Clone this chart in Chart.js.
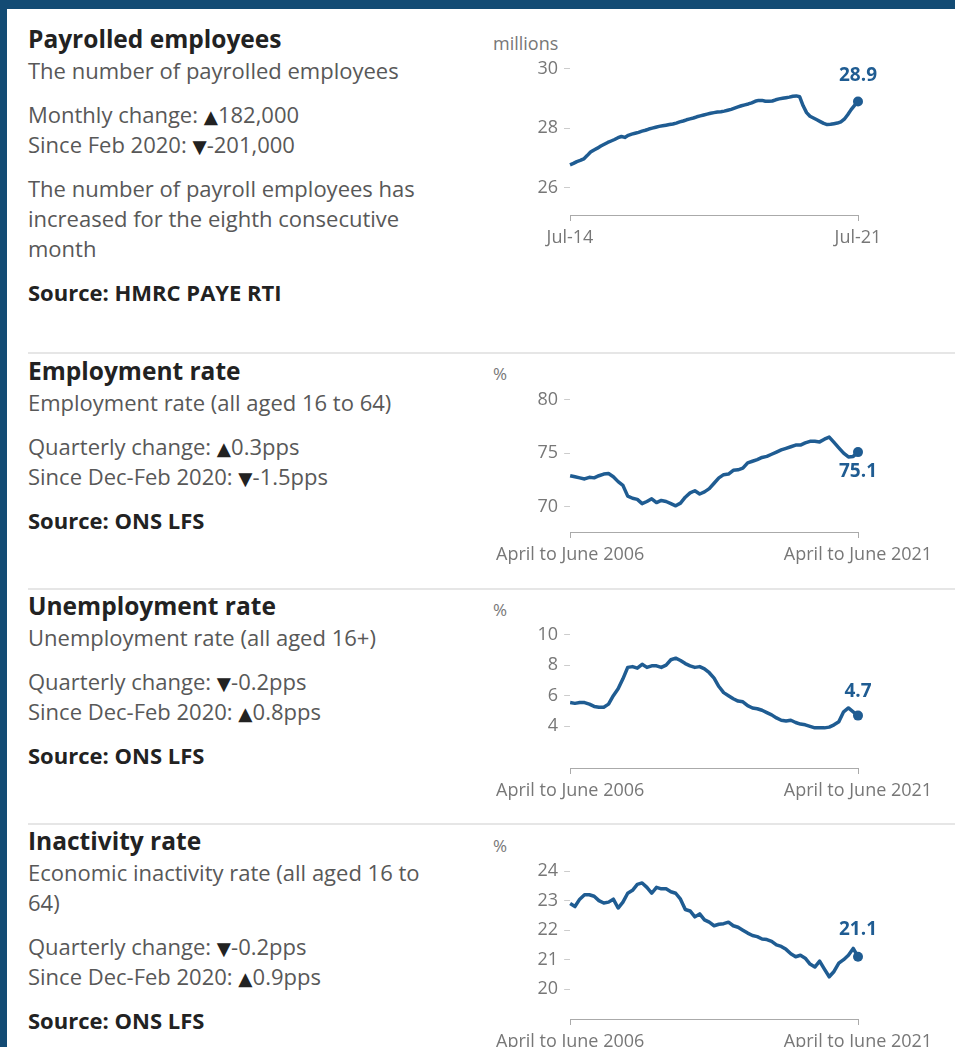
<!DOCTYPE html>
<html>
<head>
<meta charset="utf-8">
<script src="https://cdn.jsdelivr.net/npm/chart.js@4.4.0/dist/chart.umd.min.js"></script>
<style>
html, body { margin: 0; padding: 0; }
body {
    width: 955px; height: 1047px; overflow: hidden; position: relative;
    background: #fff; font-family: "Open Sans", sans-serif;
}
.frame-top { position: absolute; left: 0; top: 0; width: 955px; height: 9px; background: #134b74; }
.frame-left { position: absolute; left: 0; top: 0; width: 7px; height: 1047px; background: #134b74; }
.block { position: absolute; left: 28px; width: 405px; color: #585858; font-size: 22px; line-height: 30px; }
.block h2 { margin: 0; font-size: 24.5px; font-weight: 700; color: #222; line-height: 30px; }
.block p { margin: 14px 0 0 0; }
.block p.sub { margin-top: 1px; }
.block p.src { font-weight: 700; color: #222; }
.tri { font-family: "DejaVu Sans", sans-serif; font-size: 0.84em; line-height: 0; color: #222; }
.rule { position: absolute; left: 28px; right: 0; height: 2px; background: #e6e6e6; }
.unit { position: absolute; left: 493px; color: #777; font-size: 18px; line-height: 20px; }
.unit.pct { font-size: 17px; }
.chart { position: absolute; left: 490px; width: 465px; }
</style>
</head>
<body>
<div class="frame-top"></div>
<div class="frame-left"></div>

<!-- text blocks -->
<div class="block" style="top:24px">
    <h2>Payrolled employees</h2>
    <p class="sub">The number of payrolled employees</p>
    <p>Monthly change: <span class="tri">▲</span>182,000<br>Since Feb 2020: <span class="tri">▼</span>-201,000</p>
    <p>The number of payroll employees has increased for the eighth consecutive month</p>
    <p class="src">Source: HMRC PAYE RTI</p>
</div>
<div class="rule" style="top:352px"></div>

<div class="block" style="top:356px">
    <h2>Employment rate</h2>
    <p class="sub">Employment rate (all aged 16 to 64)</p>
    <p>Quarterly change: <span class="tri">▲</span>0.3pps<br>Since Dec-Feb 2020: <span class="tri">▼</span>-1.5pps</p>
    <p class="src">Source: ONS LFS</p>
</div>
<div class="rule" style="top:588px"></div>

<div class="block" style="top:591px">
    <h2>Unemployment rate</h2>
    <p class="sub">Unemployment rate (all aged 16+)</p>
    <p>Quarterly change: <span class="tri">▼</span>-0.2pps<br>Since Dec-Feb 2020: <span class="tri">▲</span>0.8pps</p>
    <p class="src">Source: ONS LFS</p>
</div>
<div class="rule" style="top:823px"></div>

<div class="block" style="top:826px">
    <h2>Inactivity rate</h2>
    <p class="sub">Economic inactivity rate (all aged 16 to 64)</p>
    <p>Quarterly change: <span class="tri">▼</span>-0.2pps<br>Since Dec-Feb 2020: <span class="tri">▲</span>0.9pps</p>
    <p class="src">Source: ONS LFS</p>
</div>

<!-- unit labels -->
<div class="unit" style="top:33px">millions</div>
<div class="unit pct" style="top:364px">%</div>
<div class="unit pct" style="top:600px">%</div>
<div class="unit pct" style="top:836px">%</div>

<!-- chart canvases -->
<div class="chart" style="top:43px; height:212px"><canvas id="payrollChart"></canvas></div>
<div class="chart" style="top:373px; height:199px"><canvas id="employmentChart"></canvas></div>
<div class="chart" style="top:608px; height:200px"><canvas id="unemploymentChart"></canvas></div>
<div class="chart" style="top:844px; height:215px"><canvas id="inactivityChart"></canvas></div>

<script>
// ===============================
// DATA
// ===============================

// payrolled employees, millions, monthly Jul-14 .. Jul-21
const payrollValues = [
    26.77, 26.82, 26.88, 26.92, 26.97, 27.08, 27.20, 27.27, 27.33, 27.40, 27.46, 27.52,
    27.57, 27.62, 27.68, 27.72, 27.69, 27.76, 27.80, 27.83, 27.86, 27.90, 27.93, 27.97,
    28.00, 28.03, 28.06, 28.08, 28.10, 28.12, 28.14, 28.17, 28.21, 28.24, 28.28, 28.31,
    28.34, 28.38, 28.41, 28.44, 28.47, 28.50, 28.52, 28.54, 28.55, 28.57, 28.60, 28.63,
    28.67, 28.71, 28.75, 28.78, 28.81, 28.85, 28.90, 28.93, 28.93, 28.90, 28.90, 28.91,
    28.95, 28.98, 29.00, 29.02, 29.04, 29.07, 29.08, 29.05, 28.75, 28.52, 28.40, 28.34,
    28.28, 28.22, 28.16, 28.12, 28.13, 28.15, 28.17, 28.21, 28.30, 28.45, 28.62, 28.76,
    28.89
];
const payrollTicks = [26, 28, 30];
const payrollXLabels = ["Jul-14", "Jul-21"];

// employment rate %, quarterly Apr-Jun 2006 .. Apr-Jun 2021
const employmentValues = [
    72.9, 72.8, 72.7, 72.6, 72.75, 72.7, 72.9, 73.05, 73.1, 72.8,
    72.35, 72.0, 71.0, 70.8, 70.7, 70.3, 70.5, 70.75, 70.4, 70.6,
    70.5, 70.3, 70.1, 70.35, 70.9, 71.3, 71.5, 71.2, 71.4, 71.7,
    72.2, 72.7, 73.0, 73.05, 73.4, 73.45, 73.6, 74.1, 74.25, 74.4,
    74.6, 74.7, 74.9, 75.1, 75.3, 75.45, 75.6, 75.75, 75.75, 75.95,
    76.1, 76.1, 76.05, 76.3, 76.5, 76.0, 75.5, 75.0, 74.65, 74.7,
    75.1
];
const employmentTicks = [70, 75, 80];

// unemployment rate %, quarterly Apr-Jun 2006 .. Apr-Jun 2021
const unemploymentValues = [
    5.55, 5.5, 5.55, 5.55, 5.45, 5.3, 5.25, 5.25, 5.45, 6.0,
    6.45, 7.1, 7.85, 7.9, 7.8, 8.05, 7.85, 7.95, 7.95, 7.85,
    8.0, 8.35, 8.45, 8.3, 8.1, 7.95, 7.85, 7.9, 7.75, 7.5,
    7.15, 6.6, 6.2, 6.0, 5.8, 5.65, 5.6, 5.35, 5.2, 5.15,
    5.05, 4.9, 4.75, 4.55, 4.4, 4.35, 4.4, 4.25, 4.15, 4.1,
    4.0, 3.9, 3.9, 3.9, 3.95, 4.1, 4.3, 4.95, 5.2, 4.95,
    4.7
];
const unemploymentTicks = [4, 6, 8, 10];

// inactivity rate %, quarterly Apr-Jun 2006 .. Apr-Jun 2021
const inactivityValues = [
    22.9, 22.8, 23.05, 23.2, 23.2, 23.15, 23.0, 22.92, 22.95, 23.05,
    22.75, 22.95, 23.25, 23.35, 23.55, 23.6, 23.45, 23.25, 23.45, 23.4,
    23.4, 23.3, 23.25, 23.05, 22.7, 22.65, 22.45, 22.55, 22.35, 22.27,
    22.15, 22.2, 22.22, 22.27, 22.15, 22.1, 22.0, 21.9, 21.82, 21.78,
    21.7, 21.68, 21.62, 21.5, 21.45, 21.35, 21.2, 21.1, 21.15, 21.05,
    20.85, 20.75, 20.95, 20.68, 20.42, 20.6, 20.88, 21.0, 21.15, 21.38,
    21.1
];
const inactivityTicks = [20, 21, 22, 23, 24];

const lfsXLabels = ["April to June 2006", "April to June 2021"];

const LINE_COLOR = "#1f5c92";
const AXIS_TEXT = "#777";


// ===============================
// END VALUE LABEL PLUGIN
// ===============================
const endLabel = {
    id: "endLabel",
    afterDatasetsDraw(chart, args, opts) {
        const meta = chart.getDatasetMeta(0);
        const pt = meta.data[meta.data.length - 1];
        const data = chart.data.datasets[0].data;
        const value = data[data.length - 1].y;
        const ctx = chart.ctx;
        ctx.save();
        ctx.font = "bold 19px 'Open Sans'";
        ctx.fillStyle = LINE_COLOR;
        ctx.textAlign = "center";
        ctx.textBaseline = "middle";
        ctx.fillText(value.toFixed(1), pt.x + (opts.dx || 0), pt.y + opts.dy);
        ctx.restore();
    }
};


// ===============================
// BUILD ONE SMALL LINE CHART
// ===============================
function makeChart(id, values, yTicks, xLabels, yMin, yMax, labelDy) {
    const last = values.length - 1;
    const ctx = document.getElementById(id).getContext("2d");

    return new Chart(ctx, {
        type: "line",
        data: {
            datasets: [{
                data: values.map((v, i) => ({ x: i, y: v })),
                borderColor: LINE_COLOR,
                borderWidth: 3.5,
                borderJoinStyle: "round",
                tension: 0,
                pointRadius: c => (c.dataIndex === last ? 5 : 0),
                pointBackgroundColor: LINE_COLOR,
                pointBorderWidth: 0,
                clip: false
            }]
        },
        options: {
            responsive: true,
            maintainAspectRatio: false,
            animation: false,
            layout: { padding: { top: 12, right: 97, left: 0, bottom: 0 } },
            plugins: {
                legend: { display: false },
                tooltip: { enabled: false },
                endLabel: { dy: labelDy }
            },
            scales: {
                x: {
                    type: "linear",
                    min: 0,
                    max: last,
                    afterBuildTicks: s => { s.ticks = [{ value: 0 }, { value: last }]; },
                    afterFit: s => { s.height = 40; },
                    ticks: {
                        autoSkip: false,
                        maxRotation: 0,
                        padding: 6,
                        color: AXIS_TEXT,
                        font: { family: "Open Sans", size: 18 },
                        callback: (v, i) => xLabels[i]
                    },
                    grid: { drawOnChartArea: false, drawTicks: true, tickLength: 6, color: "#aaa" },
                    border: { display: true, color: "#aaa", width: 1 }
                },
                y: {
                    min: yMin,
                    max: yMax,
                    afterBuildTicks: s => { s.ticks = yTicks.map(v => ({ value: v })); },
                    afterFit: s => { s.width = 80; },
                    ticks: {
                        padding: 6,
                        color: AXIS_TEXT,
                        font: { family: "Open Sans", size: 18 }
                    },
                    grid: { drawOnChartArea: false, drawTicks: true, tickLength: 6, color: "#ccc" },
                    border: { display: false }
                }
            }
        },
        plugins: [endLabel]
    });
}


// ===============================
// DRAW ALL FOUR
// ===============================
makeChart("payrollChart", payrollValues, payrollTicks, payrollXLabels, 25.09, 30.29, -26);
makeChart("employmentChart", employmentValues, employmentTicks, lfsXLabels, 67.66, 80.9, 20);
makeChart("unemploymentChart", unemploymentValues, unemploymentTicks, lfsXLabels, 1.28, 10.63, -24);
makeChart("inactivityChart", inactivityValues, inactivityTicks, lfsXLabels, 18.99, 24.35, -27);
</script>
</body>
</html>
